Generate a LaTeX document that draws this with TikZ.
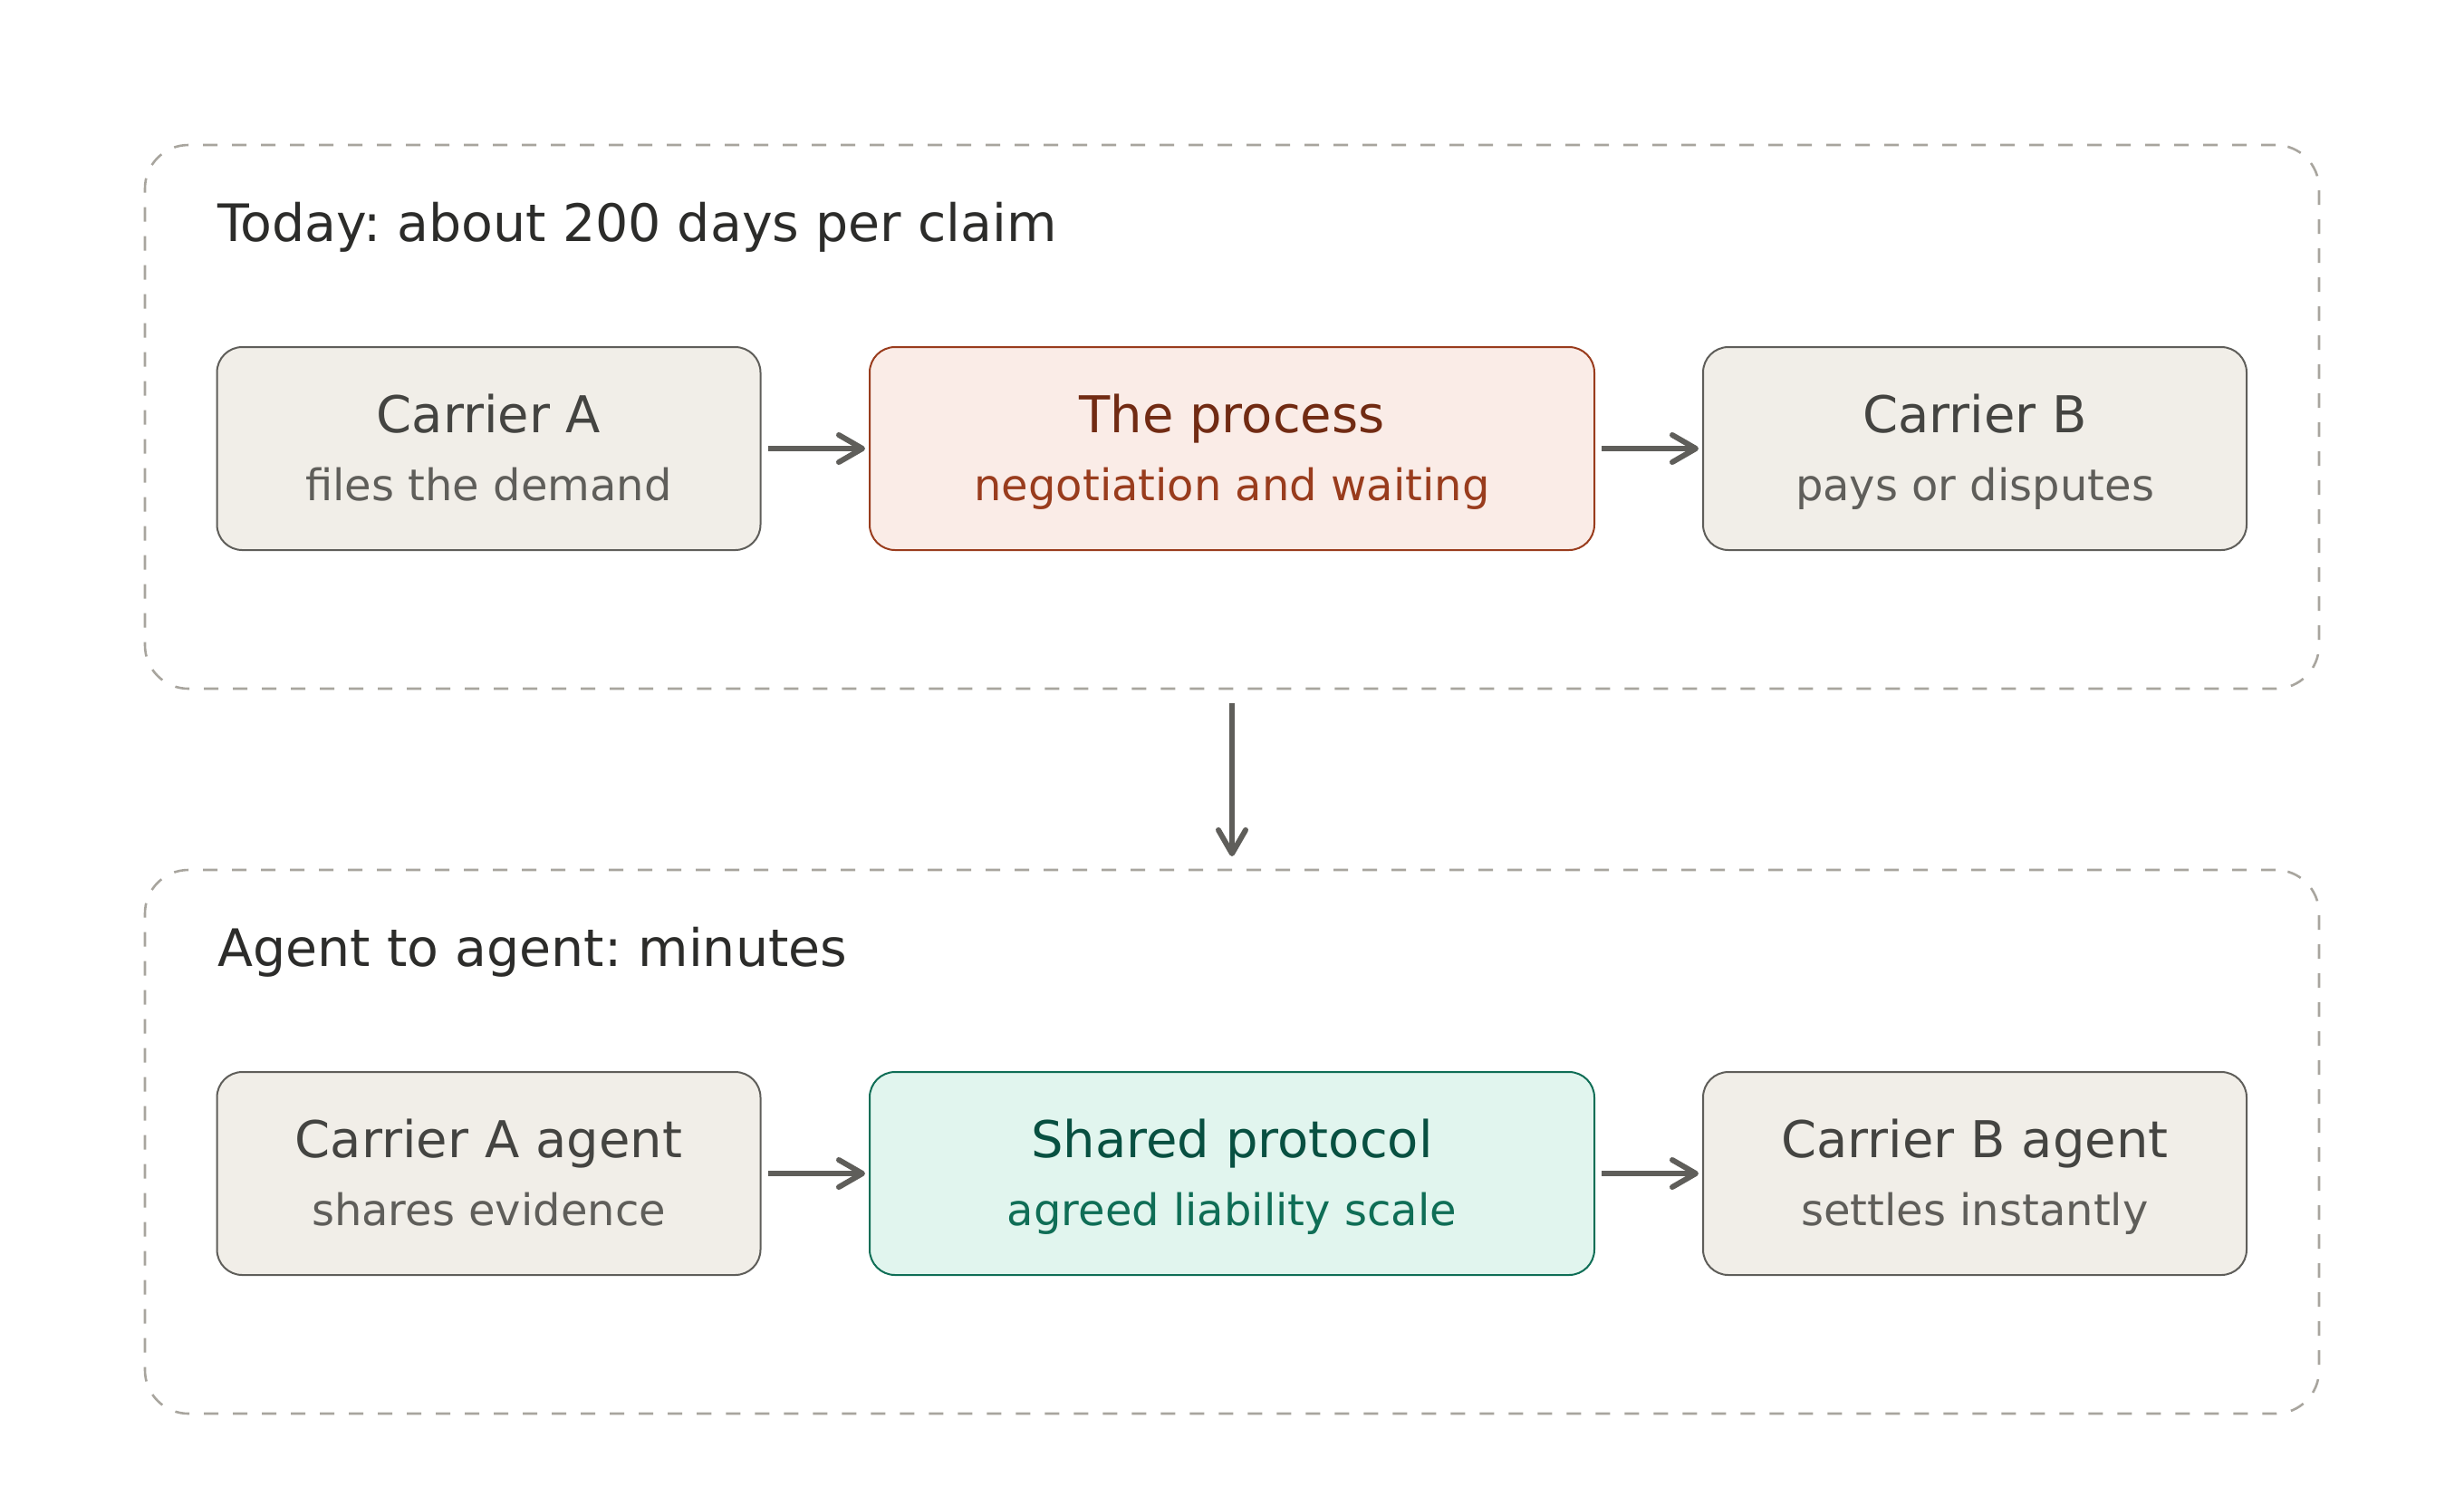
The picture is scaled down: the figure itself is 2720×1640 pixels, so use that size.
\documentclass[tikz,border=0pt]{standalone}
\usepackage{fontspec}
\setmainfont{DejaVu Sans}
\frenchspacing
\usetikzlibrary{arrows.meta}
\definecolor{dashgray}{HTML}{A8A59E}
\definecolor{nfill}{HTML}{F1EEE8}
\definecolor{nstroke}{HTML}{5F5E5A}
\definecolor{ntext}{HTML}{444441}
\definecolor{nsub}{HTML}{5F5E5A}
\definecolor{pfill}{HTML}{FAECE7}
\definecolor{pstroke}{HTML}{993C1D}
\definecolor{ptext}{HTML}{712B13}
\definecolor{psub}{HTML}{993C1D}
\definecolor{gfill}{HTML}{E1F5EE}
\definecolor{gstroke}{HTML}{0F6E56}
\definecolor{gtext}{HTML}{085041}
\definecolor{gsub}{HTML}{0F6E56}
\definecolor{titlecol}{HTML}{2C2C2A}
\definecolor{arrowcol}{HTML}{5F5E5A}
\tikzset{
  groupbox/.style={draw=dashgray, line width=1.3pt, dash pattern=on 8pt off 8pt, rounded corners=24pt, minimum width=1200pt, minimum height=300pt, inner sep=0pt, outer sep=0pt},
  cardbox/.style={line width=1pt, rounded corners=14pt, minimum height=112pt, inner sep=0pt, outer sep=0pt},
  neutral/.style={cardbox, draw=nstroke, fill=nfill, minimum width=300pt},
  warm/.style={cardbox, draw=pstroke, fill=pfill, minimum width=400pt},
  green/.style={cardbox, draw=gstroke, fill=gfill, minimum width=400pt},
  titletxt/.style={anchor=base west, inner sep=0pt, text=titlecol, font=\fontsize{28.5}{34}\selectfont},
  maintxt/.style={anchor=base, inner sep=0pt, font=\fontsize{28}{33}\selectfont},
  subtxt/.style={anchor=base, inner sep=0pt, font=\fontsize{24}{28}\selectfont},
  flow/.style={draw=arrowcol, line width=3pt, -{Straight Barb[length=13pt,width=15pt,round]}},
}
\begin{document}
\begin{tikzpicture}[x=0.5pt,y=-0.5pt]
\useasboundingbox[fill=white] (0,0) rectangle (2720,1640);
% group boxes
\node[groupbox] (today) at (1360,460) {};
\node[groupbox] (agent) at (1360,1260) {};
\node[titletxt] (todayT) at (240,266) {Today: about 200 days per claim};
\node[titletxt] (agentT) at (240,1066) {Agent to agent: minutes};
% row 1
\node[neutral] (ca) at (539.5,495) {};
\node[warm] (pr) at (1360,495) {};
\node[neutral] (cb) at (2180,495) {};
\node[maintxt, text=ntext] (caT) at (539.5,477) {Carrier A};
\node[subtxt, text=nsub] (caS) at (539.5,552) {files the demand};
\node[maintxt, text=ptext] (prT) at (1360,477) {The process};
\node[subtxt, text=psub] (prS) at (1360,552) {negotiation and waiting};
\node[maintxt, text=ntext] (cbT) at (2180,477) {Carrier B};
\node[subtxt, text=nsub] (cbS) at (2180,552) {pays or disputes};
% row 2
\node[neutral] (aa) at (539.5,1295) {};
\node[green] (sp) at (1360,1295) {};
\node[neutral] (ba) at (2180,1295) {};
\node[maintxt, text=ntext] (aaT) at (539.5,1277) {Carrier A agent};
\node[subtxt, text=nsub] (aaS) at (539.5,1352) {shares evidence};
\node[maintxt, text=gtext] (spT) at (1360,1277) {Shared protocol};
\node[subtxt, text=gsub] (spS) at (1360,1352) {agreed liability scale};
\node[maintxt, text=ntext] (baT) at (2180,1277) {Carrier B agent};
\node[subtxt, text=nsub] (baS) at (2180,1352) {settles instantly};
% arrows
\draw[flow, shorten <=4pt, shorten >=2.5pt] (ca.east) -- (pr.west);
\draw[flow, shorten <=4pt, shorten >=2.5pt] (pr.east) -- (cb.west);
\draw[flow, shorten <=4pt, shorten >=2.5pt] (aa.east) -- (sp.west);
\draw[flow, shorten <=4pt, shorten >=2.5pt] (sp.east) -- (ba.west);
\draw[flow, shorten <=8pt, shorten >=7.5pt] (today.south) -- (agent.north);
\end{tikzpicture}
\end{document}
